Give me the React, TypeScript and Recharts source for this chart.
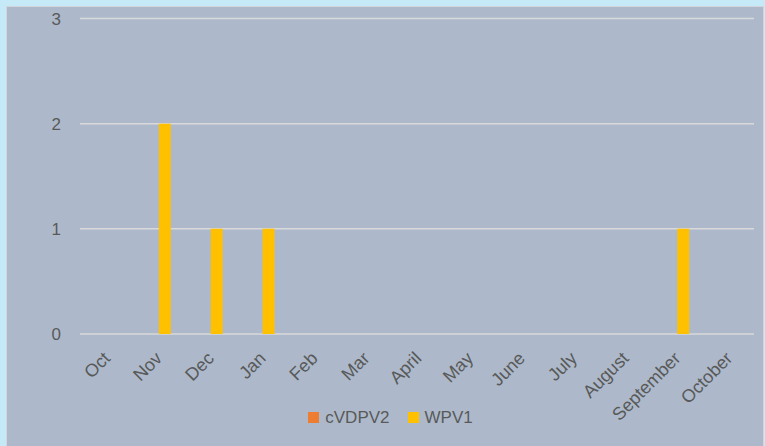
import { BarChart, Bar, XAxis, YAxis, CartesianGrid, Legend } from "recharts"

const months = ["Oct", "Nov", "Dec", "Jan", "Feb", "Mar", "April", "May", "June", "July", "August", "September", "October"]
const seriesNames = ["cVDPV2", "WPV1"]
const cvdpv2 = [0, 0, 0, 0, 0, 0, 0, 0, 0, 0, 0, 0, 0]
const wpv1 = [0, 2, 1, 1, 0, 0, 0, 0, 0, 0, 0, 1, 0]
const yTicks = [0, 1, 2, 3]

const data = months.map((m, i) => ({ month: m, cVDPV2: cvdpv2[i], WPV1: wpv1[i] }))

const FONT = "'Liberation Sans', Arial, sans-serif"
const TEXT = "#595959"

function MonthTick(props: any) {
  const { x, y, payload } = props
  return (
    <g transform={`translate(${x + 1},${y + 13})`}>
      <text
        x={0}
        y={0}
        dy="0.35em"
        textAnchor="end"
        transform="rotate(-45)"
        fill={TEXT}
        fontSize={18}
        fontFamily={FONT}
      >
        {payload.value}
      </text>
    </g>
  )
}

function LegendBox(props: any) {
  const items = [...(props.payload || [])].sort(
    (a: any, b: any) => seriesNames.indexOf(a.value) - seriesNames.indexOf(b.value)
  )
  return (
    <div style={{ display: "flex", justifyContent: "center", alignItems: "center", height: 29, paddingLeft: 20, fontFamily: FONT, fontSize: 17, color: TEXT }}>
      {items.map((it: any, i: number) => (
        <div key={i} style={{ display: "flex", alignItems: "center", marginLeft: i ? 18 : 0 }}>
          <span style={{ width: 11, height: 11, background: it.color, display: "inline-block", marginRight: 6 }} />
          <span>{it.value}</span>
        </div>
      ))}
    </div>
  )
}

export default function App() {
  return (
    <div style={{ position: "fixed", left: 0, top: 0, width: 765, height: 446, background: "#c6e9f8", overflow: "hidden" }}>
      <div
        style={{
          position: "absolute",
          left: 6,
          top: 6,
          width: 756,
          height: 446,
          background: "#adb9ca",
          border: "1px solid #d2d6dc",
        }}
      >
        <BarChart
          width={756}
          height={439}
          data={data}
          margin={{ top: 11.5, right: 9, left: 0, bottom: 14 }}
          barGap={2}
          barSize={12}
        >
          <CartesianGrid vertical={false} stroke="#d9d9d9" strokeWidth={1.5} />
          <XAxis
            dataKey="month"
            interval={0}
            axisLine={false}
            tickLine={false}
            height={69}
            tick={<MonthTick />}
          />
          <YAxis
            domain={[0, 3]}
            ticks={yTicks}
            width={73}
            axisLine={false}
            tickLine={false}
            tickSize={0}
            tickMargin={19}
            tick={{ fill: TEXT, fontSize: 17, fontFamily: FONT }}
          />
          <Legend verticalAlign="bottom" height={29} content={<LegendBox />} />
          <Bar dataKey="cVDPV2" fill="#ed7d31" isAnimationActive={false} />
          <Bar dataKey="WPV1" fill="#ffc000" isAnimationActive={false} />
        </BarChart>
      </div>
    </div>
  )
}
